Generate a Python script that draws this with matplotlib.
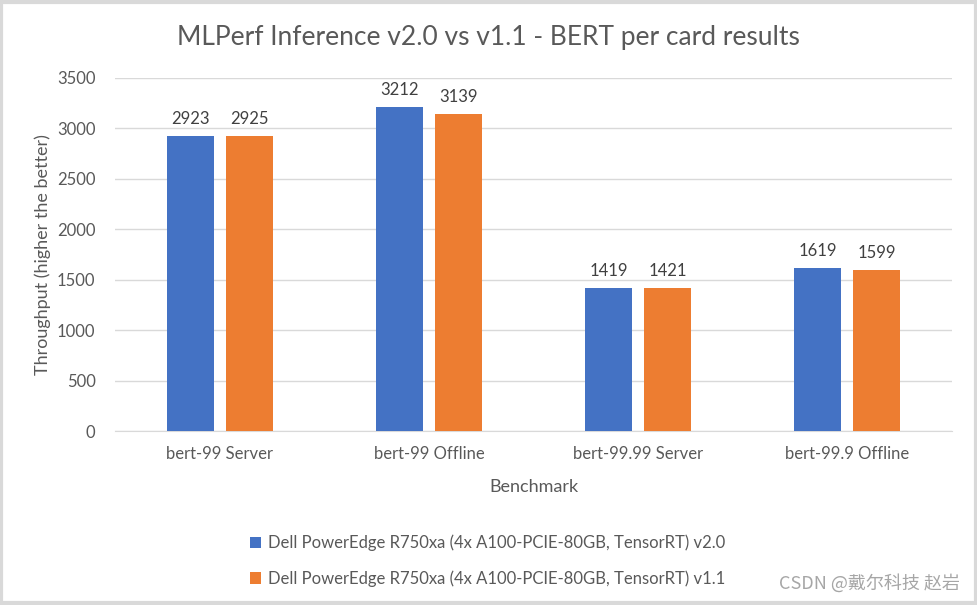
import numpy as np
import matplotlib.pyplot as plt
from matplotlib.patches import Rectangle

# chart data
benchmarks = ["bert-99 Server", "bert-99 Offline", "bert-99.99 Server", "bert-99.9 Offline"]
v20_values = [2923, 3212, 1419, 1619]
v11_values = [2925, 3139, 1421, 1599]
series_names = [
    "Dell PowerEdge R750xa (4x A100-PCIE-80GB, TensorRT) v2.0",
    "Dell PowerEdge R750xa (4x A100-PCIE-80GB, TensorRT) v1.1",
]
y_ticks = [0, 500, 1000, 1500, 2000, 2500, 3000, 3500]

plt.rcParams['font.family'] = ['Lato', 'DejaVu Sans']

fig = plt.figure(figsize=(9.77, 6.05), dpi=100)
ax = fig.add_axes([115 / 977, 1 - 431 / 605, 837 / 977, 353 / 605])

x = np.arange(len(benchmarks))
width = 0.224
offset = 0.141
colors = ["#4472C4", "#ED7D31"]

for vals, off, col, name in zip([v20_values, v11_values], [-offset, offset], colors, series_names):
    bars = ax.bar(x + off, vals, width, color=col, label=name, zorder=3)
    for b, v in zip(bars, vals):
        ax.text(b.get_x() + b.get_width() / 2, v + 90, str(v), ha='center', va='bottom',
                fontsize=12, color="#404040")

ax.set_xlim(-0.5, len(benchmarks) - 0.5)
ax.set_ylim(0, 3500)
ax.set_yticks(y_ticks)
ax.set_xticks(x)
ax.set_xticklabels(benchmarks)
ax.tick_params(axis='both', length=0, labelsize=12, colors="#595959")
ax.tick_params(axis='y', pad=14)
ax.tick_params(axis='x', pad=11)
ax.grid(axis='y', color="#d9d9d9", linewidth=1, zorder=0)
for side in ['top', 'right', 'left']:
    ax.spines[side].set_visible(False)
ax.spines['bottom'].set_color("#d9d9d9")

ax.set_xlabel("Benchmark", fontsize=13, color="#595959", labelpad=12)
ax.set_ylabel("Throughput (higher the better)", fontsize=13, color="#595959", labelpad=4)

fig.text(0.5, 1 - 37 / 605, "MLPerf Inference v2.0 vs v1.1 - BERT per card results",
         ha='center', va='center', fontsize=19, color="#595959")

fig.legend(loc='upper left', bbox_to_anchor=(243 / 977, 1 - 528 / 605), frameon=False,
           fontsize=12, handlelength=0.7, handleheight=0.7, handletextpad=0.4,
           labelspacing=1.15, labelcolor="#595959", borderaxespad=0)

fig.text(960 / 977, 1 - 583 / 605, "CSDN @戴尔科技 赵岩", ha='right', va='center',
         fontsize=13, color="#a6a6a6", family=['Noto Sans CJK SC', 'DejaVu Sans'])

# light grey chart frame
fig.patches.append(Rectangle((0.0015, 0.0025), 0.997, 0.995, transform=fig.transFigure,
                             fill=False, edgecolor="#d9d9d9", linewidth=3))

fig.savefig("out.png", dpi=100)
